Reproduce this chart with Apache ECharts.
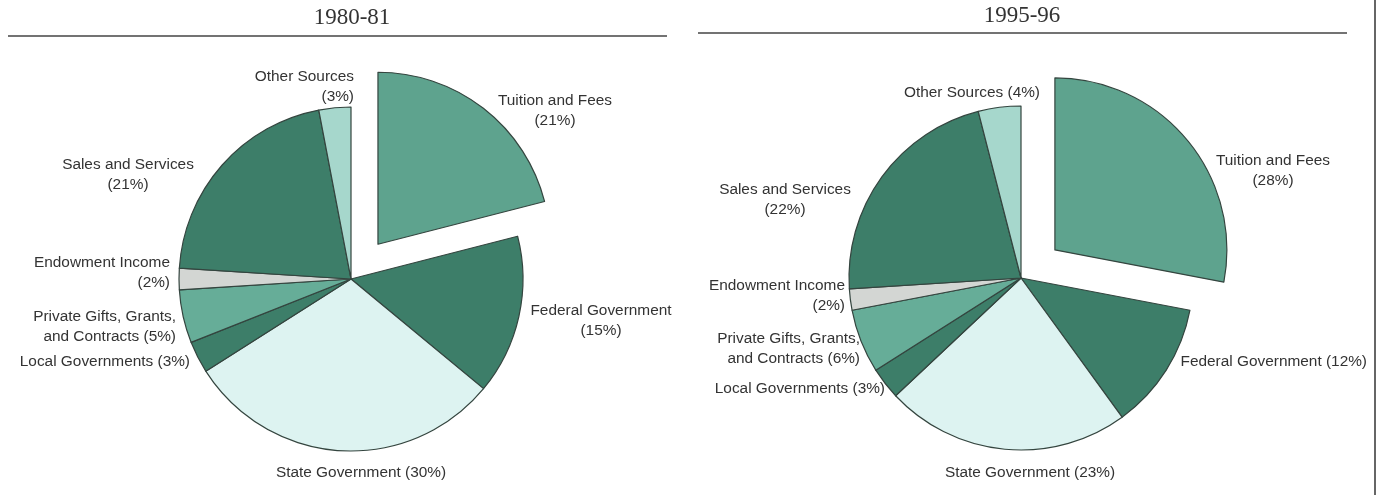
<!DOCTYPE html>
<html>
<head>
<meta charset="utf-8">
<script src="https://cdn.jsdelivr.net/npm/echarts@6/dist/echarts.min.js"></script>
<style>
html,body{margin:0;padding:0;background:#ffffff;}
#chart{width:1382px;height:495px;}
</style>
</head>
<body>
<div id="chart"></div>
<script>
// ---- data ----
const panelTitles = ['1980-81', '1995-96'];
const categories = ['Tuition and Fees', 'Federal Government', 'State Government', 'Local Governments',
  'Private Gifts, Grants, and Contracts', 'Endowment Income', 'Sales and Services', 'Other Sources'];
const values1980 = [21, 15, 30, 3, 5, 2, 21, 3];
const values1995 = [28, 12, 23, 3, 6, 2, 22, 4];
const labels1980 = ['Tuition and Fees\n(21%)', 'Federal Government\n(15%)', 'State Government (30%)',
  'Local Governments (3%)', 'Private Gifts, Grants,\nand Contracts (5%)', 'Endowment Income\n(2%)',
  'Sales and Services\n(21%)', 'Other Sources\n(3%)'];
const labels1995 = ['Tuition and Fees\n(28%)', 'Federal Government (12%)', 'State Government (23%)',
  'Local Governments (3%)', 'Private Gifts, Grants,\nand Contracts (6%)', 'Endowment Income\n(2%)',
  'Sales and Services\n(22%)', 'Other Sources (4%)'];
const explodedIndex = 0; // Tuition and Fees is pulled out

// ---- styles (not data) ----
const sliceColors = ['#5ea38e', '#3d7e69', '#ddf3f1', '#3d7e69', '#66ad98', '#d3d6d3', '#3d7e69', '#a6d7cc'];
// label anchor [x, y, align] per slice, per panel
const labelPos = [
  [[555, 111, 'center'], [601, 321, 'center'], [361, 473, 'center'], [190, 362, 'right'],
   [176, 327, 'right'], [170, 273, 'right'], [128, 175, 'center'], [354, 87, 'right']],
  [[1273, 171, 'center'], [1367, 362, 'right'], [1030, 473, 'center'], [885, 389, 'right'],
   [860, 349, 'right'], [845, 296, 'right'], [785, 200, 'center'], [1040, 93, 'right']]
];
const centers = [[351, 279], [1021, 278]];
const RADIUS = 172;
const EXPLODE = 44;
const BORDER = '#34453f';

const labelStyle = {
  show: true,
  position: 'outside',
  fontFamily: 'Liberation Sans, Arial, sans-serif',
  fontSize: 15.4,
  color: '#333333',
  lineHeight: 20
};

// one pie series; `part` = 'body' draws all slices except the exploded one,
// 'piece' draws only the exploded slice at a shifted centre
function series(idx, vals, labs, part) {
  const total = vals.reduce((a, b) => a + b, 0);
  let before = 0;
  for (let i = 0; i < explodedIndex; i++) before += vals[i];
  const midDeg = (before + vals[explodedIndex] / 2) / total * 360; // clockwise from 12 o'clock
  const rad = midDeg * Math.PI / 180;
  const c = centers[idx];
  const center = part === 'piece'
    ? [c[0] + EXPLODE * Math.sin(rad), c[1] - EXPLODE * Math.cos(rad)]
    : c;
  return {
    type: 'pie',
    center: center,
    radius: [0, RADIUS],
    startAngle: 90,
    clockwise: true,
    avoidLabelOverlap: false,
    animation: false,
    silent: true,
    emphasis: { disabled: true },
    labelLine: { show: false },
    label: labelStyle,
    labelLayout: function (p) {
      const lp = labelPos[idx][p.dataIndex];
      return { x: lp[0], y: lp[1], align: lp[2], verticalAlign: 'middle' };
    },
    data: vals.map((v, i) => {
      const visible = part === 'piece' ? i === explodedIndex : i !== explodedIndex;
      return {
        name: categories[i],
        value: v,
        itemStyle: visible
          ? { color: sliceColors[i], borderColor: BORDER, borderWidth: 1.2 }
          : { color: 'rgba(0,0,0,0)', borderWidth: 0 },
        label: visible ? { formatter: labs[i] } : { show: false }
      };
    })
  };
}

const titleStyle = { fontFamily: 'Liberation Serif, Times New Roman, serif', fontSize: 23, fontWeight: 'normal', color: '#333' };
const chart = echarts.init(document.getElementById('chart'), null, { renderer: 'canvas' });
chart.setOption({
  backgroundColor: '#ffffff',
  title: [
    { text: panelTitles[0], left: 347, top: 1, textAlign: 'center', textStyle: titleStyle },
    { text: panelTitles[1], left: 1017, top: -1, textAlign: 'center', textStyle: titleStyle }
  ],
  graphic: [
    { type: 'line', shape: { x1: 8, y1: 36, x2: 667, y2: 36 }, style: { stroke: '#444', lineWidth: 1.5 }, silent: true },
    { type: 'line', shape: { x1: 698, y1: 33, x2: 1347, y2: 33 }, style: { stroke: '#444', lineWidth: 1.5 }, silent: true },
    { type: 'line', shape: { x1: 1375, y1: 0, x2: 1375, y2: 495 }, style: { stroke: '#666', lineWidth: 2 }, silent: true }
  ],
  series: [
    series(0, values1980, labels1980, 'body'),
    series(0, values1980, labels1980, 'piece'),
    series(1, values1995, labels1995, 'body'),
    series(1, values1995, labels1995, 'piece')
  ]
});
</script>
</body>
</html>
